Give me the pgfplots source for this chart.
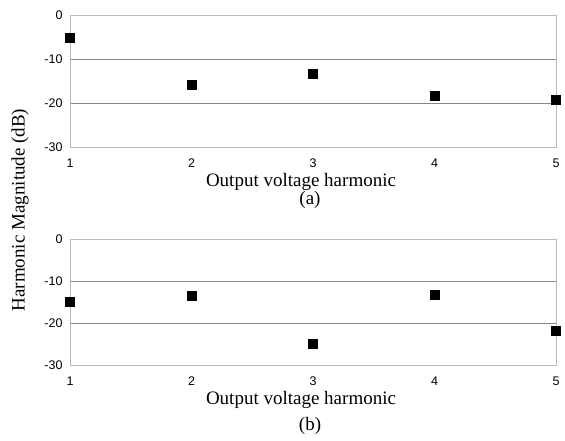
\documentclass[border=0pt]{standalone}
\usepackage{pgfplots}
\pgfplotsset{compat=1.18}
\usepackage{fontspec}
\setmainfont{Liberation Serif}
\newfontfamily\arial{Liberation Sans}

\pgfplotstableread{
h mag
1 -5.2
2 -15.9
3 -13.4
4 -18.3
5 -19.2
}\harmA

\pgfplotstableread{
h mag
1 -14.9
2 -13.5
3 -24.9
4 -13.2
5 -21.8
}\harmB

\pgfplotsset{
  harm/.style={
    scale only axis,
    width=486pt,
    anchor=north west,
    xmin=1, xmax=5,
    ymin=-30, ymax=0,
    xtick={1,2,3,4,5},
    ytick={-30,-20,-10,0},
    major tick length=0pt,
    axis line style={draw=gray!55, line width=0.9pt},
    ymajorgrids,
    major grid style={draw=gray!95, line width=0.9pt},
    tick label style={font=\arial\fontsize{12.5}{13}\selectfont},
    /pgf/number format/assume math mode=true,
    xticklabel style={yshift=-8pt},
    yticklabel style={xshift=-4pt},
    clip=false,
  },
  harmpts/.style={only marks, mark=square*, mark size=4.5pt, black},
}

\begin{document}
\begin{tikzpicture}
\path (0pt,0pt) rectangle (565pt,-441pt);

% (a)
\begin{axis}[harm, height=132pt, at={(70pt,-15pt)}]
\addplot[harmpts] table[x=h, y=mag] {\harmA};
\end{axis}

% (b)
\begin{axis}[harm, height=126pt, at={(70pt,-239pt)}]
\addplot[harmpts] table[x=h, y=mag] {\harmB};
\end{axis}

\begin{scope}[every node/.style={font=\fontsize{19}{19}\selectfont}]
\node at (301pt,-182pt) {Output voltage harmonic};
\node at (310pt,-200pt) {(a)};
\node at (301pt,-400pt) {Output voltage harmonic};
\node at (310pt,-426pt) {(b)};
\node[rotate=90] at (20pt,-210pt) {Harmonic Magnitude (dB)};
\end{scope}
\end{tikzpicture}
\end{document}
